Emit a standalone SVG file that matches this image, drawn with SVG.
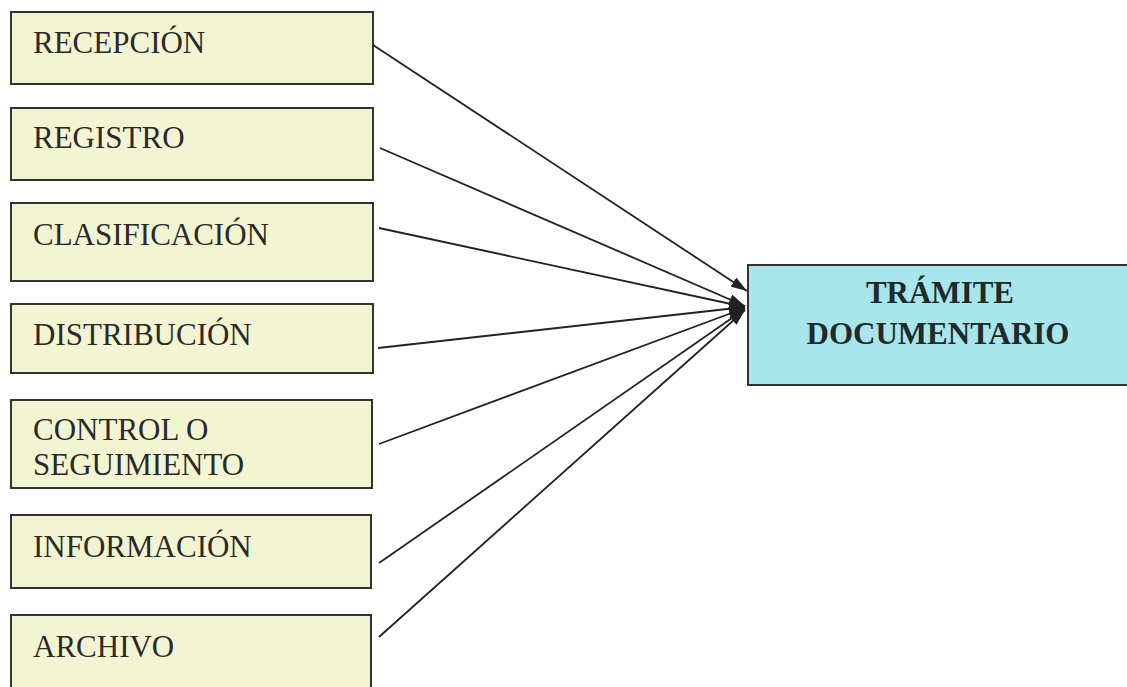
<svg xmlns="http://www.w3.org/2000/svg" width="1127" height="687" viewBox="0 0 1127 687">
<style>
.box{fill:#f3f5d2;stroke:#333;stroke-width:2}
.main{fill:#a8e6ec;stroke:#333;stroke-width:2}
.lbl{font-family:"Liberation Serif","Times New Roman",serif;font-size:31px;fill:#2a2a2a}
.bold{font-family:"Liberation Serif","Times New Roman",serif;font-size:31px;font-weight:bold;fill:#1e2a2c;text-anchor:middle}
.conn{stroke:#222;stroke-width:1.8;fill:none;marker-end:url(#arr)}
</style>
<defs>
<marker id="arr" viewBox="0 0 10 10" refX="10" refY="5" markerWidth="9" markerHeight="6" markerUnits="strokeWidth" orient="auto" preserveAspectRatio="none">
<path d="M0,0 L10,5 L0,10 z" fill="#222"/>
</marker>
</defs>
<rect width="1127" height="687" fill="#fff"/>
<g id="recepcion"><rect class="box" x="11" y="12" width="362" height="72"/><text class="lbl" x="33" y="53">RECEPCIÓN</text></g>
<g id="registro"><rect class="box" x="11" y="108" width="362" height="72"/><text class="lbl" x="33" y="148">REGISTRO</text></g>
<g id="clasificacion"><rect class="box" x="11" y="203" width="362" height="78"/><text class="lbl" x="33" y="245">CLASIFICACIÓN</text></g>
<g id="distribucion"><rect class="box" x="11" y="304" width="362" height="69"/><text class="lbl" x="33" y="345">DISTRIBUCIÓN</text></g>
<g id="control"><rect class="box" x="11" y="400" width="361" height="88"/><text class="lbl" x="33" y="440">CONTROL O</text><text class="lbl" x="33" y="475">SEGUIMIENTO</text></g>
<g id="informacion"><rect class="box" x="11" y="515" width="360" height="73"/><text class="lbl" x="33" y="557">INFORMACIÓN</text></g>
<g id="archivo"><rect class="box" x="11" y="615" width="360" height="90"/><text class="lbl" x="33" y="657">ARCHIVO</text></g>
<g id="tramite"><rect class="main" x="748" y="265" width="390" height="120"/><text class="bold" x="940" y="303">TRÁMITE</text><text class="bold" x="938" y="344">DOCUMENTARIO</text></g>
<g id="connectors">
<line class="conn" x1="373" y1="45" x2="747" y2="291"/>
<line class="conn" x1="380" y1="148" x2="745" y2="306"/>
<line class="conn" x1="379" y1="228" x2="745" y2="307"/>
<line class="conn" x1="378" y1="348" x2="745" y2="307"/>
<line class="conn" x1="379" y1="444" x2="745" y2="308"/>
<line class="conn" x1="379" y1="563" x2="745" y2="309"/>
<line class="conn" x1="379" y1="637" x2="745" y2="310"/>
</g>
</svg>
